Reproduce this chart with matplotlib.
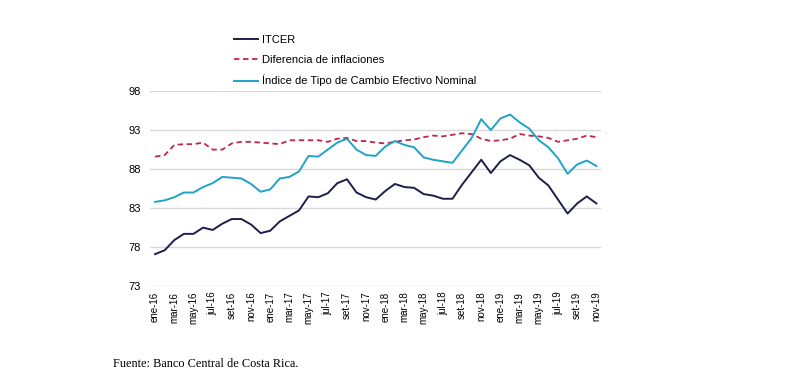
import matplotlib.pyplot as plt
import numpy as np

meses = ["ene", "feb", "mar", "abr", "may", "jun", "jul", "ago", "set", "oct", "nov", "dic"]
fechas = [f"{meses[i % 12]}-{16 + i // 12}" for i in range(47)]

itcer = [77.1, 77.6, 78.9, 79.7, 79.7, 80.5, 80.2, 81.0, 81.6, 81.6, 80.9, 79.8,
         80.1, 81.3, 82.0, 82.7, 84.5, 84.4, 84.9, 86.2, 86.7, 85.0, 84.4, 84.1,
         85.2, 86.1, 85.7, 85.6, 84.8, 84.6, 84.2, 84.2, 86.0, 87.6, 89.2, 87.5,
         89.0, 89.8, 89.2, 88.5, 86.9, 85.9, 84.1, 82.3, 83.6, 84.5, 83.6]

dif_inflacion = [89.6, 89.8, 91.1, 91.2, 91.2, 91.4, 90.5, 90.5, 91.3, 91.5, 91.5, 91.4,
                 91.3, 91.2, 91.7, 91.7, 91.7, 91.7, 91.5, 91.9, 92.0, 91.6, 91.6, 91.4,
                 91.3, 91.5, 91.7, 91.8, 92.1, 92.3, 92.2, 92.4, 92.6, 92.5, 91.9, 91.6,
                 91.7, 91.9, 92.5, 92.3, 92.2, 92.0, 91.5, 91.7, 91.9, 92.3, 92.1]

itcen = [83.8, 84.0, 84.4, 85.0, 85.0, 85.7, 86.2, 87.0, 86.9, 86.8, 86.1, 85.1,
         85.4, 86.8, 87.0, 87.7, 89.7, 89.6, 90.5, 91.4, 91.9, 90.5, 89.8, 89.7,
         90.9, 91.6, 91.1, 90.8, 89.5, 89.2, 89.0, 88.8, 90.4, 92.0, 94.4, 93.0,
         94.5, 95.0, 94.0, 93.2, 91.7, 90.8, 89.4, 87.4, 88.6, 89.1, 88.4]

x = np.arange(len(fechas))

plt.rcParams['font.family'] = ['Liberation Sans', 'DejaVu Sans']

fig = plt.figure(figsize=(7.91, 3.75), dpi=100)
ax = fig.add_axes([0.19, 0.237, 0.57, 0.52])

ax.plot(x, itcer, color='#1b1f4b', lw=1.4, label='ITCER')
ax.plot(x, dif_inflacion, color='#c0264a', lw=1.3, ls=(0, (3, 2)), label='Diferencia de inflaciones')
ax.plot(x, itcen, color='#1fa3c8', lw=1.4, label='Índice de Tipo de Cambio Efectivo Nominal')

ax.set_xlim(-0.5, 46.5)
ax.set_ylim(73, 98)
ax.set_yticks([73, 78, 83, 88, 93, 98])
ax.set_xticks(x[::2])
ax.set_xticklabels(fechas[::2], rotation=90, fontsize=7)
ax.tick_params(axis='y', labelsize=8, length=0, pad=7)
ax.tick_params(axis='x', length=0, pad=4)
ax.grid(axis='y', color='#d9d9d9', lw=1)
ax.set_axisbelow(True)
for s in ax.spines.values():
    s.set_visible(False)

ax.legend(loc='lower left', bbox_to_anchor=(0.171, 0.99), frameon=False, fontsize=8,
          handlelength=2.2, handletextpad=0.3, labelspacing=0.9, borderaxespad=0.2)

fig.text(113 / 791, 1 - 364 / 375, 'Fuente: Banco Central de Costa Rica.',
         family='Liberation Serif', fontsize=8.8, va='center')

fig.savefig('out.png', dpi=100)
